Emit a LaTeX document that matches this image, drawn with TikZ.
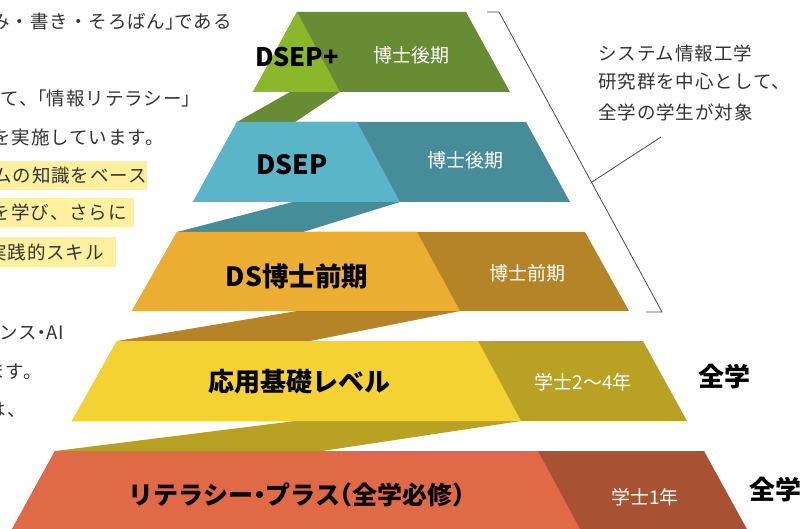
\documentclass[tikz,border=0pt]{standalone}
\usepackage{fontspec}
\newfontfamily\jp{Noto Sans CJK JP}
\newfontfamily\jpbody{Noto Sans CJK JP}[LetterSpace=5]
\newcommand\hp[1]{{\addfontfeature{RawFeature=+halt}#1}}
\definecolor{gAl}{HTML}{8AB82A}\definecolor{gAd}{HTML}{678C33}
\definecolor{gBl}{HTML}{5BB5C8}\definecolor{gBd}{HTML}{478C99}
\definecolor{gCl}{HTML}{EBAE33}\definecolor{gCd}{HTML}{B48426}
\definecolor{gDl}{HTML}{F4D233}\definecolor{gDd}{HTML}{B9A123}
\definecolor{gEl}{HTML}{E06A46}\definecolor{gEd}{HTML}{A85234}
\definecolor{hl}{HTML}{FFF0A0}
\definecolor{bodytxt}{HTML}{333333}
\tikzset{
  body/.style={font=\jpbody\fontsize{18.5}{21}\selectfont, text=bodytxt, inner sep=0pt},
  lbl/.style={font=\jp\bfseries\fontsize{27}{30}\selectfont, text=black, inner sep=0pt},
  sub/.style={font=\jp\fontsize{19}{22}\selectfont, text=white, inner sep=0pt},
  brk/.style={draw=black!70, line width=0.8pt},
}
\begin{document}
\begin{tikzpicture}[x=1pt,y=-1pt]
\clip (0,0) rectangle (803,529);
\fill[white] (0,0) rectangle (803,529);
% left text
\fill[hl] (0,161) rectangle (147,190);
\fill[hl] (0,198) rectangle (134,227);
\fill[hl] (0,237) rectangle (116,267);
\node[body,anchor=east] (t1) at (232,22) {み・書き・そろばん\hp{」}である};
\node[body,anchor=east] (t2) at (191,98) {て、\hp{「}情報リテラシー\hp{」}};
\node[body,anchor=east] (t3) at (164,137) {を実施しています。};
\node[body,anchor=east] (t4) at (147,175.5) {ムの知識をベース};
\node[body,anchor=east] (t5) at (127,212.5) {を学び、さらに};
\node[body,anchor=east] (t6) at (104,252) {実践的スキル};
\node[body,anchor=east] (t7) at (64,333) {ンス\hp{・}AI};
\node[body,anchor=east] (t8) at (42,372) {ます。};
\node[body,anchor=east] (t9) at (26,410) {は、};
% ribbons
\fill[gAd] (290,92) -- (340,92) -- (295,122) -- (237,122) -- cycle;
\fill[gBd] (293,202) -- (400,202) -- (303,232) -- (177,232) -- cycle;
\fill[gCd] (297,311) -- (460,311) -- (310,341) -- (117,341) -- cycle;
\fill[gDd] (295,421) -- (521,421) -- (322,451) -- (55,451) -- cycle;
% level 1
\fill[gAd] (297,12) -- (466,12) -- (510,92) -- (253,92) -- cycle;
\fill[gAl] (297,12) -- (340,92) -- (253,92) -- cycle;
% level 2
\fill[gBd] (237,122) -- (526,122) -- (570,202) -- (193,202) -- cycle;
\fill[gBl] (237,122) -- (357,122) -- (400,202) -- (193,202) -- cycle;
% level 3
\fill[gCd] (177,232) -- (585,232) -- (629,311) -- (132,311) -- cycle;
\fill[gCl] (177,232) -- (417,232) -- (460,311) -- (132,311) -- cycle;
% level 4
\fill[gDd] (117,341) -- (643,341) -- (687,421) -- (72,421) -- cycle;
\fill[gDl] (117,341) -- (478,341) -- (521,421) -- (72,421) -- cycle;
% level 5
\fill[gEd] (55,451) -- (704,451) -- (748,531) -- (11,531) -- cycle;
\fill[gEl] (55,451) -- (538,451) -- (581,531) -- (11,531) -- cycle;
% labels
\node[lbl,font=\jp\bfseries\fontsize{25.5}{30}\selectfont] (l1) at (297,57) {DSEP+};
\node[sub] (s1) at (411,55) {博士後期};
\node[lbl,font=\jp\bfseries\fontsize{26.5}{30}\selectfont] (l2) at (292,165) {DSEP};
\node[sub] (s2) at (465,160) {博士後期};
\node[lbl,font=\jp\bfseries\fontsize{26.5}{30}\selectfont] (l3) at (297,276) {DS博士前期};
\node[sub] (s3) at (527,273) {博士前期};
\node[lbl,font=\jp\bfseries\fontsize{26}{30}\selectfont] (l4) at (299,382) {応用基礎レベル};
\node[sub] (s4) at (583,382) {学士2〜4年};
\node[lbl,font=\jp\bfseries\fontsize{25}{28}\selectfont] (l5) at (297,495) {リテラシー\hp{・}プラス\hp{（}全学必修\hp{）}};
\node[sub] (s5) at (645,497) {学士1年};
\node[lbl,font=\jp\bfseries\fontsize{26}{30}\selectfont] (a4) at (724,377) {全学};
\node[lbl,font=\jp\bfseries\fontsize{26}{30}\selectfont] (a5) at (775,490) {全学};
% bracket
\coordinate (b0) at (487,12);
\coordinate (b1) at (499,12);
\coordinate (b2) at (662,312);
\coordinate (b3) at (646,312);
\coordinate (lead) at (592,182);
\coordinate (leadend) at (661,137);
\draw[brk] (b0) -- (b1) -- (b2) -- (b3);
\draw[brk] (lead) -- (leadend);
\node[body,anchor=west] (r1) at (598,53) {システム情報工学};
\node[body,anchor=west] (r2) at (598,82) {研究群を中心として、};
\node[body,anchor=west] (r3) at (598,112) {全学の学生が対象};
\end{tikzpicture}
\end{document}
